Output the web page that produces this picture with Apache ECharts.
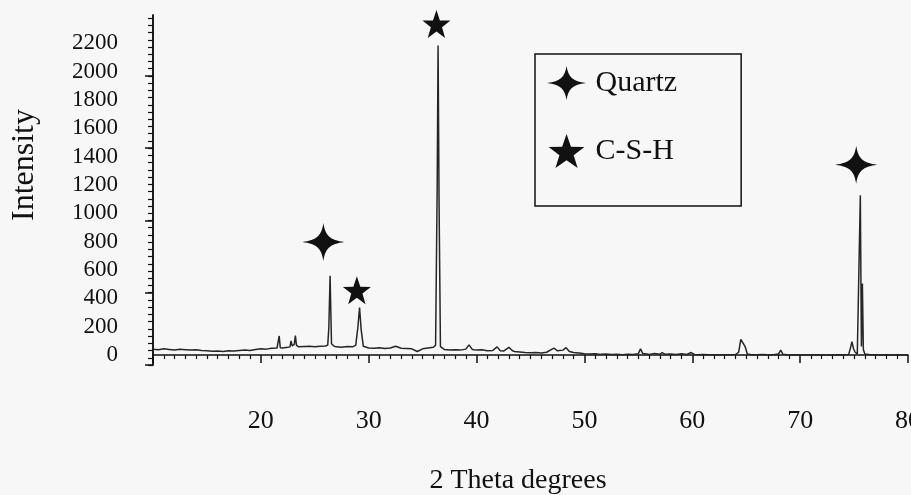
<!DOCTYPE html>
<html>
<head>
<meta charset="utf-8">
<script src="https://cdn.jsdelivr.net/npm/echarts@6.0.0/dist/echarts.min.js"></script>
<style>
  html, body { margin: 0; padding: 0; background: #f7f7f7; }
  #chart { width: 911px; height: 495px; }
</style>
</head>
<body>
<div id="chart"></div>
<script>
// XRD pattern
const angle = [
  10.0, 10.5, 11.0, 11.5, 12.0, 12.5, 13.0, 13.5, 14.0, 14.5, 15.0, 15.5, 16.0, 16.5, 17.0, 17.5,
  18.0, 18.5, 19.0, 19.5, 20.0, 20.5, 21.0, 21.5, 21.6, 21.7, 21.8, 22.0, 22.5, 22.7, 22.8, 22.9,
  23.1, 23.2, 23.3, 23.5, 24.0, 24.5, 25.0, 25.5, 26.0, 26.2, 26.3, 26.42, 26.55, 26.8, 27.0, 27.5,
  28.0, 28.5, 28.8, 29.0, 29.15, 29.3, 29.5, 30.0, 30.5, 31.0, 31.5, 32.0, 32.5, 33.0, 33.5, 34.0,
  34.5, 35.0, 35.5, 36.0, 36.2, 36.35, 36.43, 36.52, 36.65, 37.0, 37.5, 38.0, 38.5, 39.0, 39.3, 39.6,
  40.0, 40.5, 41.0, 41.5, 41.9, 42.2, 42.5, 43.0, 43.3, 43.5, 44.0, 44.5, 45.0, 45.5, 46.0, 46.5,
  47.0, 47.2, 47.5, 48.0, 48.3, 48.6, 49.0, 49.5, 50.0, 50.5, 51.0, 51.5, 52.0, 52.5, 53.0, 53.5,
  54.0, 54.5, 55.0, 55.2, 55.4, 55.8, 56.0, 56.5, 57.0, 57.2, 57.5, 58.0, 58.5, 59.0, 59.5, 59.9,
  60.2, 60.5, 61.0, 61.5, 62.0, 62.5, 63.0, 63.5, 64.0, 64.3, 64.5, 64.66, 64.9, 65.1, 65.5, 66.0,
  66.5, 67.0, 67.5, 68.0, 68.2, 68.4, 68.8, 69.0, 69.5, 70.0, 70.5, 71.0, 71.5, 72.0, 72.5, 73.0,
  73.5, 74.0, 74.5, 74.7, 74.8, 74.95, 75.1, 75.3, 75.45, 75.58, 75.68, 75.77, 75.86, 76.0, 76.5, 77.0,
  77.5, 78.0, 78.5, 79.0, 79.5, 80.0
];
const intensity = [
  42, 38, 44, 40, 36, 41, 38, 35, 37, 32, 30, 27, 29, 26, 30, 28,
  32, 35, 33, 40, 44, 42, 48, 50, 52, 135, 52, 50, 55, 58, 100, 65,
  75, 138, 70, 58, 60, 62, 58, 62, 64, 70, 190, 560, 80, 62, 58, 55,
  60, 58, 70, 200, 336, 180, 62, 50, 48, 52, 46, 50, 62, 48, 46, 44,
  25, 44, 50, 55, 70, 1200, 2185, 1100, 60, 40, 36, 38, 35, 42, 72, 40,
  35, 38, 30, 32, 58, 30, 28, 55, 32, 25, 22, 18, 16, 18, 15, 20,
  42, 48, 30, 35, 52, 25, 18, 15, 10, 8, 9, 5, 7, 4, 5, 3,
  6, 4, 10, 45, 12, 8, 5, 12, 6, 18, 5, 8, 4, 10, 4, 18,
  5, 3, 4, 2, 3, 2, 3, 2, 4, 20, 110, 118, 60, 8, 3, 2,
  4, 2, 3, 8, 35, 6, 2, 1, 2, 0, 1, 0, 2, 0, 1, 0,
  2, 1, 5, 60, 94, 45, 20, 8, 15, 1127, 60, 505, 40, 8, 3, 2,
  0, 2, 1, 2, 0, 1
];

// phase markers placed above the peaks
const quartzMarks = [[25.8, 798], [75.2, 1344]];
const cshMarks = [[28.9, 458], [36.28, 2337]];

const xLabels = [20, 30, 40, 50, 60, 70, 80];
const yLabels = [0, 200, 400, 600, 800, 1000, 1200, 1400, 1600, 1800, 2000, 2200];

const yMin = -70, yMax = 2400;
// the y axis ticks are not on the label values in the original
let yMinorTicks = [], yMajorTicks = [];
for (let v = yMin; v <= yMax; v += 51) yMinorTicks.push(v);
for (let v = yMin; v <= yMax; v += 510) yMajorTicks.push(v);

const quartzIcon = 'path://M0,-1 C0.1,-0.35 0.35,-0.1 1.15,0 C0.35,0.1 0.1,0.35 0,1 C-0.1,0.35 -0.35,0.1 -1.15,0 C-0.35,-0.1 -0.1,-0.35 0,-1 Z';
const starIcon = 'path://M0,-1 L0.235,-0.324 L0.951,-0.309 L0.38,0.124 L0.588,0.809 L0,0.4 L-0.588,0.809 L-0.38,0.124 L-0.951,-0.309 L-0.235,-0.324 Z';

const font = '"Liberation Serif", "Times New Roman", serif';

const chart = echarts.init(document.getElementById('chart'));
chart.setOption({
  backgroundColor: '#f7f7f7',
  animation: false,
  textStyle: { fontFamily: font, color: '#111' },
  grid: { left: 153, right: 3, top: 15, bottom: 130, outerBoundsMode: 'none' },
  legend: {
    orient: 'vertical',
    left: 535,
    top: 54,
    padding: [12, 64, 38, 12],
    itemGap: 34,
    itemWidth: 48,
    itemHeight: 34,
    borderColor: '#111',
    borderWidth: 1.5,
    textStyle: { fontFamily: font, fontSize: 30, color: '#111' },
    data: [
      { name: 'Quartz', icon: quartzIcon },
      { name: 'C-S-H', icon: starIcon }
    ]
  },
  xAxis: {
    type: 'value',
    min: 10,
    max: 80,
    interval: 10,
    name: '2 Theta degrees',
    nameLocation: 'middle',
    nameGap: 102,
    nameTextStyle: { fontFamily: font, fontSize: 28, color: '#111', padding: [0, 25, 0, 0] },
    axisLine: { lineStyle: { color: '#111', width: 1.5 } },
    axisTick: { length: 8, lineStyle: { color: '#111', width: 1.5 } },
    minorTick: { show: true, splitNumber: 10, length: 4, lineStyle: { color: '#111', width: 1.2 } },
    axisLabel: {
      customValues: xLabels,
      margin: 43,
      fontFamily: font,
      fontSize: 26,
      color: '#111'
    },
    splitLine: { show: false }
  },
  yAxis: [
    {
      type: 'value',
      min: yMin,
      max: yMax,
      name: 'Intensity',
      nameLocation: 'middle',
      nameGap: 112,
      nameTextStyle: { fontFamily: font, fontSize: 32, color: '#111', padding: [0, 0, 0, 50] },
      axisLine: { show: true, lineStyle: { color: '#111', width: 1.5 } },
      axisTick: { customValues: yMinorTicks, length: 5, lineStyle: { color: '#111', width: 1.2 } },
      axisLabel: {
        customValues: yLabels,
        formatter: v => String(v),
        margin: 35,
        fontFamily: font,
        fontSize: 23,
        color: '#111'
      },
      splitLine: { show: false }
    },
    {
      type: 'value',
      position: 'left',
      min: yMin,
      max: yMax,
      axisLine: { show: true, lineStyle: { color: '#111', width: 1.5 } },
      axisTick: { customValues: yMajorTicks, length: 8, lineStyle: { color: '#111', width: 1.5 } },
      axisLabel: { show: false },
      splitLine: { show: false }
    }
  ],
  series: [
    {
      name: 'XRD',
      type: 'line',
      data: angle.map((a, i) => [a, intensity[i]]),
      showSymbol: false,
      symbol: 'none',
      lineStyle: { color: '#262626', width: 1.5 },
      z: 2
    },
    {
      name: 'Quartz',
      type: 'scatter',
      data: quartzMarks,
      symbol: quartzIcon,
      symbolSize: [42, 38],
      itemStyle: { color: '#111', opacity: 1 },
      z: 3
    },
    {
      name: 'C-S-H',
      type: 'scatter',
      data: cshMarks,
      symbol: starIcon,
      symbolSize: 28,
      itemStyle: { color: '#111', opacity: 1 },
      z: 3
    }
  ]
});
</script>
</body>
</html>
